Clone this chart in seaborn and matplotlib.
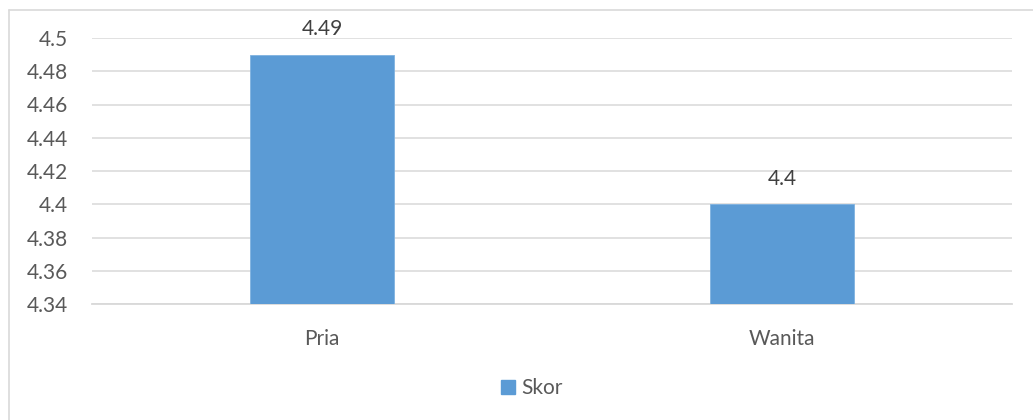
import matplotlib
matplotlib.use("Agg")
import matplotlib.pyplot as plt
import seaborn as sns
import pandas as pd
from matplotlib.lines import Line2D

categories = ["Pria", "Wanita"]
skor = [4.49, 4.4]
yticks = [4.34, 4.36, 4.38, 4.40, 4.42, 4.44, 4.46, 4.48, 4.50]
ytick_labels = ["4.34", "4.36", "4.38", "4.4", "4.42", "4.44", "4.46", "4.48", "4.5"]
series_name = "Skor"

sns.set_style("white")
plt.rcParams['font.family'] = ['Lato', 'DejaVu Sans']

BAR = "#5B9BD5"
TXT = "#595959"
GRID = "#D9D9D9"

df = pd.DataFrame({"cat": categories, "val": skor})

fig = plt.figure(figsize=(10.33, 4.2), dpi=100)
ax = fig.add_axes([92/1033, 1-304/420, (1012-92)/1033, (304-38)/420])

sns.barplot(data=df, x="cat", y="val", color=BAR, width=0.313, ax=ax,
            saturation=1, edgecolor="#7FB2E0", linewidth=0.6, zorder=3)
ax.set_ylim(yticks[0], yticks[-1])
ax.set_xlim(-0.5, 1.5)
ax.set_yticks(yticks)
ax.set_yticklabels(ytick_labels)
ax.yaxis.grid(True, color=GRID, linewidth=1.1, zorder=0)
ax.set_axisbelow(True)
for s in ["top", "right", "left"]:
    ax.spines[s].set_visible(False)
ax.spines["bottom"].set_color(GRID)
ax.spines["bottom"].set_linewidth(1.3)
ax.set_xlabel("")
ax.set_ylabel("")
ax.tick_params(axis="y", length=0, pad=17, labelsize=15, labelcolor=TXT)
ax.tick_params(axis="x", length=0, pad=18, labelsize=15, labelcolor=TXT)

for i, v in enumerate(skor):
    lab = f"{v:g}"
    ax.annotate(lab, (i, v), xytext=(0, 11), textcoords="offset points",
                ha="center", va="bottom", fontsize=15, color="#404040",
                annotation_clip=False)

handle = Line2D([], [], marker="s", linestyle="none", markersize=10,
                markerfacecolor=BAR, markeredgecolor=BAR)
fig.legend([handle], [series_name], loc="center", bbox_to_anchor=(530/1033, 1-388/420),
           frameon=False, fontsize=15, labelcolor=TXT, handletextpad=0.1,
           handlelength=1.0, borderaxespad=0)

# chart border (left and top visible)
fig.add_artist(Line2D([8.5/1033, 8.5/1033], [0, 1-9.5/420], transform=fig.transFigure,
                      color=GRID, linewidth=1.2))
fig.add_artist(Line2D([8.5/1033, 1], [1-9.5/420, 1-9.5/420], transform=fig.transFigure,
                      color=GRID, linewidth=1.2))

fig.savefig("out.png", dpi=100, facecolor="white")
